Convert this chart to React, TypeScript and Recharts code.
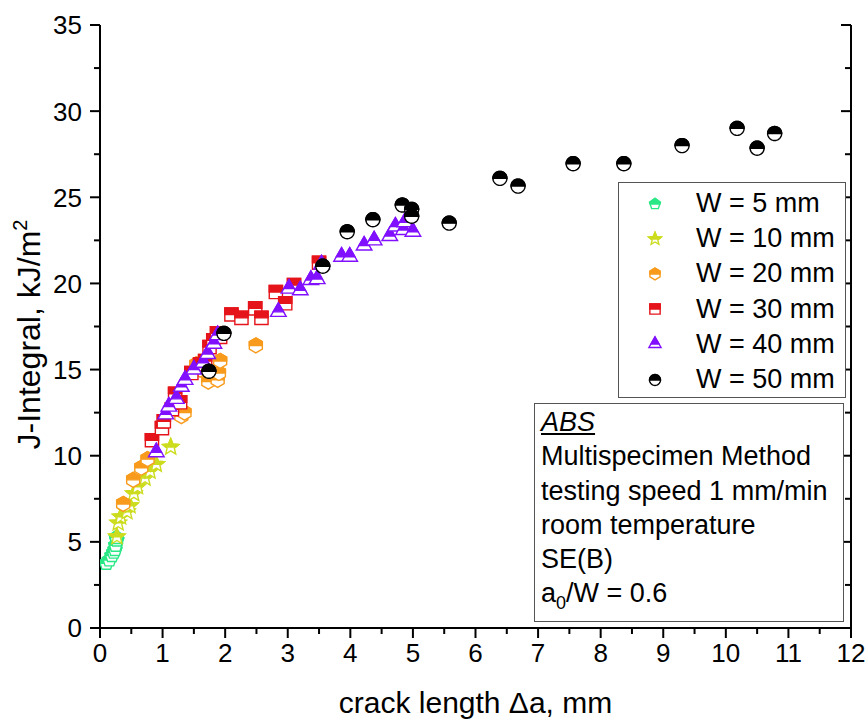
import React from 'react';
import { ScatterChart, Scatter, XAxis, YAxis } from 'recharts';

const FONT = '"Liberation Sans", Arial, Helvetica, sans-serif';

// crack length Δa (mm) vs J-Integral (kJ/m²)
const w5mm = [
  { a: 0.1, j: 3.75 }, { a: 0.15, j: 3.95 }, { a: 0.19, j: 4.2 }, { a: 0.22, j: 4.4 },
  { a: 0.24, j: 4.55 }, { a: 0.25, j: 4.8 }, { a: 0.27, j: 5.1 }, { a: 0.26, j: 5.25 },
];
const w10mm = [
  { a: 0.27, j: 5.3 }, { a: 0.29, j: 6.1 }, { a: 0.33, j: 6.45 }, { a: 0.43, j: 6.75 },
  { a: 0.48, j: 7.1 }, { a: 0.54, j: 7.8 }, { a: 0.6, j: 8.2 }, { a: 0.72, j: 8.7 },
  { a: 0.8, j: 9.1 }, { a: 0.9, j: 9.5 }, { a: 1.13, j: 10.5 },
];
const w20mm = [
  { a: 0.37, j: 7.2 }, { a: 0.53, j: 8.6 }, { a: 0.66, j: 9.3 }, { a: 0.76, j: 9.8 },
  { a: 1.3, j: 12.3 }, { a: 1.35, j: 12.5 }, { a: 1.54, j: 15.3 }, { a: 1.6, j: 15.0 },
  { a: 1.73, j: 14.3 }, { a: 1.88, j: 14.4 }, { a: 1.9, j: 14.8 }, { a: 1.92, j: 15.5 },
  { a: 2.49, j: 16.4 },
];
const w30mm = [
  { a: 0.83, j: 10.9 }, { a: 0.99, j: 11.6 }, { a: 1.02, j: 12.0 }, { a: 1.15, j: 12.7 },
  { a: 1.2, j: 13.6 }, { a: 1.28, j: 13.1 }, { a: 1.46, j: 14.8 }, { a: 1.6, j: 15.3 },
  { a: 1.68, j: 15.5 }, { a: 1.75, j: 16.3 }, { a: 1.81, j: 16.7 }, { a: 1.87, j: 17.1 },
  { a: 1.92, j: 16.9 }, { a: 2.1, j: 18.2 }, { a: 2.26, j: 18.0 }, { a: 2.48, j: 18.55 },
  { a: 2.58, j: 18.0 }, { a: 2.81, j: 19.5 }, { a: 2.96, j: 18.85 }, { a: 3.1, j: 19.9 },
  { a: 3.5, j: 21.2 },
];
const w40mm = [
  { a: 0.9, j: 10.2 }, { a: 1.05, j: 12.4 }, { a: 1.1, j: 12.85 }, { a: 1.22, j: 13.3 },
  { a: 1.3, j: 14.0 }, { a: 1.36, j: 14.4 }, { a: 1.5, j: 15.0 }, { a: 1.65, j: 15.4 },
  { a: 1.72, j: 15.9 }, { a: 1.82, j: 16.5 }, { a: 1.88, j: 17.0 }, { a: 2.85, j: 18.35 },
  { a: 3.02, j: 19.7 }, { a: 3.2, j: 19.6 }, { a: 3.37, j: 20.2 }, { a: 3.47, j: 20.25 },
  { a: 3.54, j: 21.1 }, { a: 3.86, j: 21.55 }, { a: 3.99, j: 21.55 }, { a: 4.22, j: 22.2 },
  { a: 4.38, j: 22.5 }, { a: 4.63, j: 22.75 }, { a: 4.72, j: 23.3 }, { a: 4.85, j: 23.1 },
  { a: 4.87, j: 23.55 }, { a: 5.0, j: 23.0 },
];
const w50mm = [
  { a: 1.74, j: 14.9 }, { a: 1.98, j: 17.1 }, { a: 3.56, j: 21.0 }, { a: 3.95, j: 23.0 },
  { a: 4.36, j: 23.7 }, { a: 4.83, j: 24.55 }, { a: 4.98, j: 24.3 }, { a: 4.98, j: 23.9 },
  { a: 5.58, j: 23.5 }, { a: 6.39, j: 26.1 }, { a: 6.68, j: 25.65 }, { a: 7.56, j: 26.95 },
  { a: 8.37, j: 26.95 }, { a: 9.3, j: 28.0 }, { a: 10.18, j: 29.0 }, { a: 10.5, j: 27.85 },
  { a: 10.78, j: 28.7 },
];

const xTicks = [0, 0.5, 1, 1.5, 2, 2.5, 3, 3.5, 4, 4.5, 5, 5.5, 6, 6.5, 7, 7.5, 8, 8.5, 9, 9.5, 10, 10.5, 11, 11.5, 12];
const yTicks = [0, 2.5, 5, 7.5, 10, 12.5, 15, 17.5, 20, 22.5, 25, 27.5, 30, 32.5, 35];

const annotationLines = ['Multispecimen Method', 'testing speed 1 mm/min', 'room temperature', 'SE(B)'];

type ShapeKind = 'pentagon' | 'star' | 'hexagon' | 'square' | 'triangle' | 'circle';

const series: { name: string; color: string; shape: ShapeKind; data: { a: number; j: number }[] }[] = [
  { name: 'W = 5 mm', color: '#2BE886', shape: 'pentagon', data: w5mm },
  { name: 'W = 10 mm', color: '#CCDC1E', shape: 'star', data: w10mm },
  { name: 'W = 20 mm', color: '#F89B1C', shape: 'hexagon', data: w20mm },
  { name: 'W = 30 mm', color: '#E5141A', shape: 'square', data: w30mm },
  { name: 'W = 40 mm', color: '#8010FF', shape: 'triangle', data: w40mm },
  { name: 'W = 50 mm', color: '#000000', shape: 'circle', data: w50mm },
];

type P = [number, number];

function regular(n: number, r: number): P[] {
  const pts: P[] = [];
  for (let i = 0; i < n; i++) {
    const ang = (-90 + (360 / n) * i) * (Math.PI / 180);
    pts.push([r * Math.cos(ang), r * Math.sin(ang)]);
  }
  return pts;
}

function starPts(r: number, inner: number): P[] {
  const pts: P[] = [];
  for (let i = 0; i < 10; i++) {
    const rr = i % 2 === 0 ? r : inner;
    const ang = (-90 + 36 * i) * (Math.PI / 180);
    pts.push([rr * Math.cos(ang), rr * Math.sin(ang)]);
  }
  return pts;
}

function shapePoints(kind: ShapeKind, k: number): P[] {
  switch (kind) {
    case 'pentagon':
      return regular(5, 7.3 * k);
    case 'star':
      return starPts(8.5 * k, 3.8 * k);
    case 'hexagon':
      return regular(6, 7.5 * k);
    case 'square': {
      const s = 6.6 * k;
      return [[-s, -s], [s, -s], [s, s], [-s, s]];
    }
    case 'triangle':
      return regular(3, 9 * k);
    case 'circle':
    default:
      return regular(40, 7 * k);
  }
}

// keep the part of the polygon above y = 0
function clipTop(pts: P[]): P[] {
  const out: P[] = [];
  for (let i = 0; i < pts.length; i++) {
    const cur = pts[i];
    const prev = pts[(i + pts.length - 1) % pts.length];
    const curIn = cur[1] <= 0;
    const prevIn = prev[1] <= 0;
    if (curIn !== prevIn) {
      const t = (0 - prev[1]) / (cur[1] - prev[1]);
      out.push([prev[0] + t * (cur[0] - prev[0]), 0]);
    }
    if (curIn) out.push(cur);
  }
  return out;
}

const toStr = (pts: P[]) => pts.map((p) => `${p[0].toFixed(2)},${p[1].toFixed(2)}`).join(' ');

const HalfMarker = ({ cx, cy, color, kind, k = 1 }: { cx: number; cy: number; color: string; kind: ShapeKind; k?: number }) => {
  if (cx == null || cy == null || isNaN(cx) || isNaN(cy)) return null;
  const full = shapePoints(kind, k);
  const top = clipTop(full);
  return (
    <g transform={`translate(${cx},${cy})`}>
      <polygon points={toStr(full)} fill="#ffffff" stroke={color} strokeWidth={1.4} strokeLinejoin="miter" />
      <polygon points={toStr(top)} fill={color} stroke={color} strokeWidth={1.4} strokeLinejoin="miter" />
    </g>
  );
};

const XTick = (props: any) => {
  const { x, y, payload } = props;
  const v = payload.value as number;
  const major = Number.isInteger(v);
  return (
    <g>
      <line x1={x} x2={x} y1={y} y2={y + (major ? 10 : 6)} stroke="#000" strokeWidth={2} />
      {major && (
        <text x={x} y={y + 34} textAnchor="middle" fontSize={26} fontFamily={FONT} fill="#000">
          {v}
        </text>
      )}
    </g>
  );
};

const YTickLeft = (props: any) => {
  const { x, y, payload } = props;
  const v = payload.value as number;
  const major = v % 5 === 0;
  return (
    <g>
      <line x1={x} x2={x - (major ? 10 : 6)} y1={y} y2={y} stroke="#000" strokeWidth={2} />
      {major && (
        <text x={x - 18} y={y} dy="0.36em" textAnchor="end" fontSize={26} fontFamily={FONT} fill="#000">
          {v}
        </text>
      )}
    </g>
  );
};

const YTickRight = (props: any) => {
  const { x, y, payload } = props;
  const v = payload.value as number;
  const major = v % 5 === 0;
  return <line x1={x} x2={x - (major ? 10 : 6)} y1={y} y2={y} stroke="#000" strokeWidth={2} />;
};

const XLabel = (props: any) => {
  const vb = props.viewBox || { x: 100, y: 628, width: 751, height: 90 };
  return (
    <text x={vb.x + vb.width / 2} y={vb.y + 85} textAnchor="middle" fontSize={30} fontFamily={FONT} fill="#000">
      crack length Δa, mm
    </text>
  );
};

const YLabel = (props: any) => {
  const vb = props.viewBox || { x: 0, y: 25, width: 100, height: 603 };
  const cx = vb.x + 40;
  const cy = vb.y + vb.height / 2 + 8;
  return (
    <text x={cx} y={cy} transform={`rotate(-90, ${cx}, ${cy})`} textAnchor="middle" fontSize={32} fontFamily={FONT} fill="#000">
      J-Integral, kJ/m<tspan dy={-13} fontSize={20}>2</tspan>
    </text>
  );
};

export default function App() {
  return (
    <div style={{ position: 'absolute', left: 0, top: 0, width: 866, height: 725, background: '#fff', fontFamily: FONT }}>
      <ScatterChart width={866} height={725} margin={{ top: 25, right: 14, bottom: 7, left: 0 }}>
        <XAxis
          type="number"
          dataKey="a"
          domain={[0, 12]}
          ticks={xTicks}
          interval={0}
          allowDataOverflow
          tickSize={0}
          tickMargin={0}
          tickLine={false}
          tick={(p: any) => <XTick {...p} />}
          axisLine={{ stroke: '#000', strokeWidth: 2 }}
          height={90}
          label={{ content: (p: any) => <XLabel {...p} /> }}
        />
        <YAxis
          type="number"
          dataKey="j"
          domain={[0, 35]}
          ticks={yTicks}
          interval={0}
          allowDataOverflow
          tickSize={0}
          tickMargin={0}
          tickLine={false}
          tick={(p: any) => <YTickLeft {...p} />}
          axisLine={{ stroke: '#000', strokeWidth: 2 }}
          width={100}
          label={{ content: (p: any) => <YLabel {...p} /> }}
        />
        <YAxis
          yAxisId="r"
          orientation="right"
          type="number"
          domain={[0, 35]}
          ticks={yTicks}
          interval={0}
          allowDataOverflow
          tickSize={0}
          tickMargin={0}
          tickLine={false}
          tick={(p: any) => <YTickRight {...p} />}
          axisLine={{ stroke: '#000', strokeWidth: 2 }}
          width={1}
        />
        {series.map((s) => (
          <Scatter
            key={s.name}
            name={s.name}
            data={s.data}
            isAnimationActive={false}
            shape={(p: any) => <HalfMarker cx={p.cx} cy={p.cy} color={s.color} kind={s.shape} />}
          />
        ))}
      </ScatterChart>

      {/* legend */}
      <div
        style={{
          position: 'absolute',
          left: 618,
          top: 182,
          width: 228,
          height: 216,
          border: '1px solid #555',
          background: '#fff',
          boxSizing: 'border-box',
          paddingTop: 3,
        }}
      >
        {series.map((s) => (
          <div key={s.name} style={{ height: 35.2, display: 'flex', alignItems: 'center', position: 'relative' }}>
            <svg width={24} height={24} style={{ position: 'absolute', left: 24, top: 5.6 }}>
              <HalfMarker cx={12} cy={12} color={s.color} kind={s.shape} k={0.78} />
            </svg>
            <span style={{ position: 'absolute', left: 77, fontSize: 27, lineHeight: '35.2px', top: 0, color: '#000', whiteSpace: 'nowrap' }}>
              {s.name}
            </span>
          </div>
        ))}
      </div>

      {/* annotation */}
      <div
        style={{
          position: 'absolute',
          left: 534,
          top: 403,
          width: 310,
          height: 219,
          border: '1px solid #555',
          background: '#fff',
          boxSizing: 'border-box',
          paddingLeft: 6,
          paddingTop: 1,
          fontSize: 27,
          lineHeight: '34.3px',
          color: '#000',
          whiteSpace: 'nowrap',
        }}
      >
        <div style={{ fontStyle: 'italic', textDecoration: 'underline' }}>ABS</div>
        {annotationLines.map((l) => (
          <div key={l}>{l}</div>
        ))}
        <div>
          a<sub style={{ fontSize: 18, verticalAlign: 'baseline', position: 'relative', top: 7 }}>0</sub>/W = 0.6
        </div>
      </div>
    </div>
  );
}
